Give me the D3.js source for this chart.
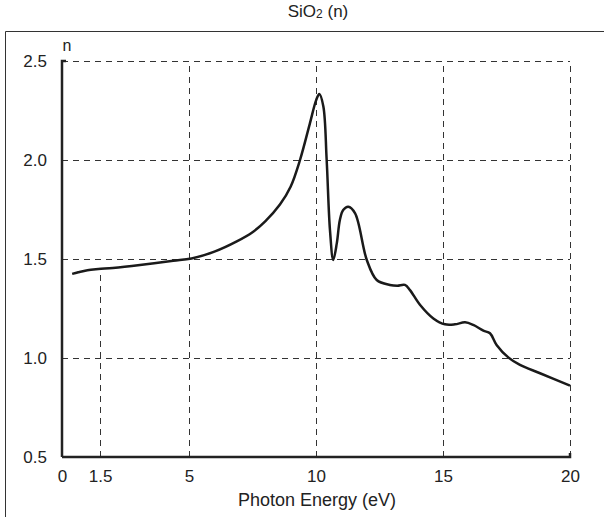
<!DOCTYPE html>
<html>
<head>
<meta charset="utf-8">
<script src="https://cdn.jsdelivr.net/npm/d3@7"></script>
<style>
  body { margin: 0; background: #fff; }
  svg { font-family: "Liberation Sans", Arial, sans-serif; }
</style>
</head>
<body>
<svg id="chart" width="604" height="517"></svg>
<script>
// photon energy (eV) and refractive index n
const energy = [0.4, 0.64, 1.0, 1.43, 2.0, 3.07, 4.38, 5.1, 6.0, 6.9, 7.5, 8.0, 8.58, 9.0, 9.37, 9.76, 10.0, 10.13,
  10.29, 10.42, 10.55, 10.68, 10.82, 10.94, 11.07, 11.27, 11.54, 12.0, 12.39, 12.91, 13.2, 13.5, 13.7, 14.1,
  14.62, 15.08, 15.47, 15.87, 16.19, 16.59, 16.85, 17.11, 17.57, 18.03, 18.82, 20.0];
const nValues = [1.425, 1.433, 1.443, 1.449, 1.455, 1.47, 1.491, 1.503, 1.537, 1.59, 1.635, 1.69, 1.775, 1.865, 2.0, 2.185, 2.3, 2.333,
  2.27, 2.0, 1.646, 1.495, 1.58, 1.697, 1.747, 1.764, 1.731, 1.495, 1.394, 1.369, 1.365, 1.369, 1.343, 1.268,
  1.2, 1.17, 1.17, 1.18, 1.167, 1.138, 1.125, 1.066, 1.003, 0.965, 0.923, 0.86];

const xTicks = [0, 1.5, 5, 10, 15, 20];
const yTicks = [0.5, 1.0, 1.5, 2.0, 2.5];
const xGrid = [5, 10, 15, 20];
const yGrid = [1.0, 1.5, 2.0, 2.5];

const svg = d3.select("#chart");

const x = d3.scaleLinear().domain([0, 20]).range([62, 570]);
const y = d3.scaleLinear().domain([0.5, 2.5]).range([457, 61]);

// outer frame (open on the right and bottom)
svg.append("path")
  .attr("d", "M5.5,517 V31.5 H604")
  .attr("fill", "none")
  .attr("stroke", "#333")
  .attr("stroke-width", 1);

svg.append("text")
  .attr("x", 318).attr("y", 17)
  .attr("text-anchor", "middle")
  .attr("font-size", 17)
  .attr("fill", "#222")
  .html('SiO<tspan font-size="12" dy="1">2</tspan><tspan dy="-1"> (n)</tspan>');

const grid = svg.append("g")
  .attr("stroke", "#333")
  .attr("stroke-width", 1)
  .attr("stroke-dasharray", "6,5");

grid.selectAll("line.h")
  .data(yGrid)
  .enter().append("line")
  .attr("class", "h")
  .attr("x1", x(0)).attr("x2", x(20))
  .attr("y1", d => Math.round(y(d)) + 0.5).attr("y2", d => Math.round(y(d)) + 0.5);

grid.selectAll("line.v")
  .data(xGrid)
  .enter().append("line")
  .attr("class", "v")
  .attr("x1", d => Math.round(x(d)) + 0.5).attr("x2", d => Math.round(x(d)) + 0.5)
  .attr("y1", y(0.5)).attr("y2", y(2.5));

// the 1.5 eV marker only runs up to the curve
const n15 = d3.scaleLinear().domain(energy).range(nValues)(1.5);
grid.append("line")
  .attr("x1", Math.round(x(1.5)) + 0.5).attr("x2", Math.round(x(1.5)) + 0.5)
  .attr("y1", y(0.5)).attr("y2", y(n15));

// axes
const xAxis = svg.append("g")
  .attr("transform", `translate(0,${y(0.5)})`)
  .call(d3.axisBottom(x).tickValues(xTicks).tickSize(0).tickPadding(13)
    .tickFormat(d => d === 1.5 ? "1.5" : d3.format("d")(d)));
xAxis.select(".domain").attr("stroke", "#222").attr("stroke-width", 2.5)
  .attr("d", `M${x(0)},0H${x(20)}V-4`);
xAxis.selectAll("text").attr("font-size", 17).attr("fill", "#222")
  .attr("font-family", "Liberation Sans, Arial, sans-serif");

const yAxis = svg.append("g")
  .attr("transform", `translate(${x(0)},0)`)
  .call(d3.axisLeft(y).tickValues(yTicks).tickSize(0).tickPadding(15)
    .tickFormat(d3.format(".1f")));
yAxis.select(".domain").attr("stroke", "#222").attr("stroke-width", 2.5)
  .attr("d", `M4,${y(2.5)}H0V${y(0.5)}`);
yAxis.selectAll("text").attr("font-size", 17).attr("fill", "#222")
  .attr("font-family", "Liberation Sans, Arial, sans-serif");

svg.append("text")
  .attr("x", 67).attr("y", 51)
  .attr("text-anchor", "middle")
  .attr("font-size", 16)
  .attr("fill", "#222")
  .text("n");

svg.append("text")
  .attr("x", 317).attr("y", 506)
  .attr("text-anchor", "middle")
  .attr("font-size", 18)
  .attr("fill", "#222")
  .text("Photon Energy (eV)");

const line = d3.line()
  .x((d, i) => x(energy[i]))
  .y(d => y(d))
  .curve(d3.curveCatmullRom.alpha(0.5));

svg.append("path")
  .datum(nValues)
  .attr("fill", "none")
  .attr("stroke", "#1a1a1a")
  .attr("stroke-width", 2.5)
  .attr("stroke-linejoin", "round")
  .attr("d", line);
</script>
</body>
</html>
